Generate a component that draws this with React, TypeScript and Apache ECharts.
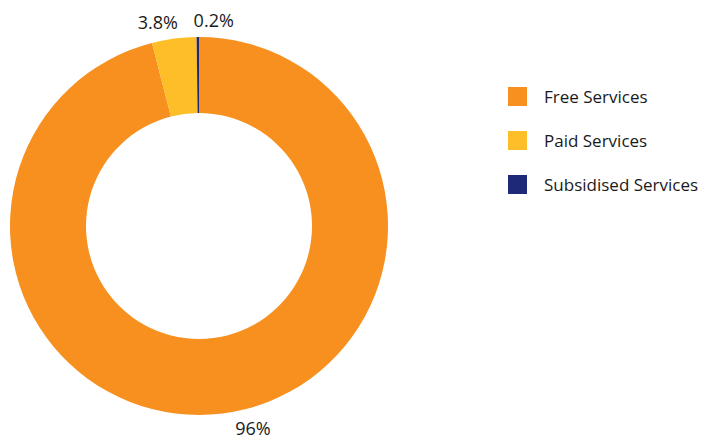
import React, { useEffect, useRef } from "react";
import * as echarts from "echarts";

const categories = ["Free Services", "Paid Services", "Subsidised Services"];
const values = [96, 3.8, 0.2];
const labels = ["96%", "3.8%", "0.2%"];
const colors = ["#F7901E", "#FDBE27", "#1E2A78"];

export default function App() {
  const ref = useRef<HTMLDivElement>(null);
  useEffect(() => {
    const chart = echarts.init(ref.current!, null, { renderer: "svg" });
    const font = "'Open Sans', 'Noto Sans', sans-serif";
    chart.setOption({
      animation: false,
      color: colors,
      legend: {
        orient: "vertical",
        left: 503,
        top: 82,
        itemWidth: 19,
        itemHeight: 19,
        itemGap: 25,
        icon: "rect",
        data: categories,
        textStyle: { fontSize: 17, color: "#1a1a1a", fontFamily: font, padding: [0, 0, 0, 12] },
      },
      series: [
        {
          type: "pie",
          center: [199, 226],
          radius: [113, 189],
          startAngle: 90,
          clockwise: true,
          avoidLabelOverlap: false,
          label: {
            show: true,
            position: "outside",
            formatter: (p: any) => labels[p.dataIndex],
            fontSize: 18,
            color: "#1a1a1a",
            fontFamily: font,
          },
          labelLine: { show: false, length: 18, length2: 0 },
          labelLayout: (p: any) => {
            const pts = p.labelLinePoints;
            if (!pts) return {};
            const end = pts[pts.length - 1];
            return { x: end[0], y: end[1], align: "center", verticalAlign: "middle", dx: p.dataIndex === 1 ? -14 : p.dataIndex === 2 ? 16 : 28, dy: p.dataIndex === 0 ? -3 : 1 };
          },
          itemStyle: { borderWidth: 0 },
          emphasis: { disabled: true },
          data: categories.map((c, i) => ({ name: c, value: values[i] })),
        },
      ],
    });
    return () => chart.dispose();
  }, []);
  return <div ref={ref} style={{ width: 705, height: 441, position: "absolute", left: 0, top: 0 }} />;
}
